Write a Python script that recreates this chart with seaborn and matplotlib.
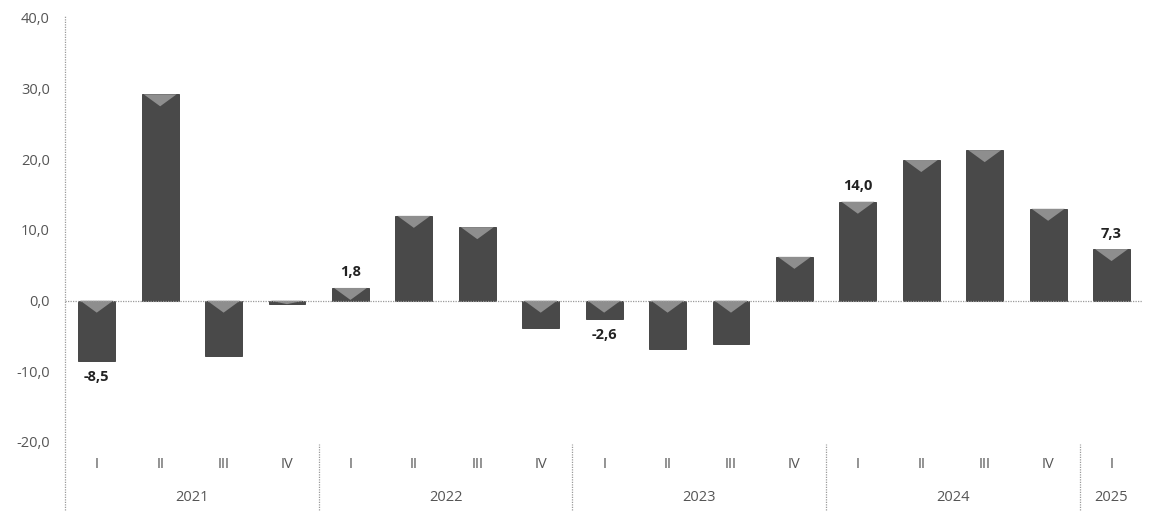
import numpy as np
import pandas as pd
import matplotlib
matplotlib.use("Agg")
import matplotlib.pyplot as plt
from matplotlib.patches import Polygon
import seaborn as sns

# Quarterly change (%)
years = ["2021", "2022", "2023", "2024", "2025"]
quarters_per_year = [4, 4, 4, 4, 1]
quarter_names = ["I", "II", "III", "IV"]
values = [-8.5, 29.2, -7.8, -0.5,
          1.8, 12.0, 10.4, -3.8,
          -2.6, -6.9, -6.1, 6.2,
          14.0, 19.9, 21.3, 13.0,
          7.3]
labelled = {0: "-8,5", 4: "1,8", 8: "-2,6", 12: "14,0", 16: "7,3"}

periods, quarters = [], []
for y, n in zip(years, quarters_per_year):
    for q in quarter_names[:n]:
        periods.append(f"{y} {q}")
        quarters.append(q)
df = pd.DataFrame({"period": periods, "value": values})

sns.set_style("white")
plt.rcParams["font.family"] = ["Open Sans", "DejaVu Sans"]

fig = plt.figure(figsize=(11.49, 5.29), dpi=100)
ax = fig.add_axes([0.0566, 0.1645, 0.9384, 0.8015])

sns.barplot(data=df, x="period", y="value", order=periods, color="#494949",
            width=0.58, saturation=1, ax=ax, edgecolor="#383838", linewidth=0.6)

ax.set_ylim(-20, 40)
ax.set_xlim(-0.5, len(values) - 0.5)
ax.set_yticks(np.arange(-20, 41, 10))
ax.set_yticklabels([f"{v:.1f}".replace(".", ",") for v in np.arange(-20, 41, 10)],
                   color="#555555", fontsize=10.5)
ax.tick_params(axis="y", length=0, pad=11)
ax.set_xticks(range(len(values)))
ax.set_xticklabels(quarters, color="#555555", fontsize=10.5)
ax.tick_params(axis="x", length=0, pad=11)
ax.set_xlabel("")
ax.set_ylabel("")
for s in ax.spines.values():
    s.set_visible(False)

# light bevel at the top edge of every bar
for bar in ax.patches:
    x0, w = bar.get_x(), bar.get_width()
    top = max(bar.get_y(), bar.get_y() + bar.get_height())
    h = min(1.7, abs(bar.get_height()))
    tri = Polygon([[x0 + 0.03, top], [x0 + w - 0.03, top], [x0 + w / 2, top - h]],
                  closed=True, facecolor="#8e8e8e", edgecolor="none", zorder=3)
    ax.add_patch(tri)

# zero line
ax.axhline(0, color="#9a9a9a", linestyle=(0, (1, 1)), linewidth=0.9, zorder=4)

# value labels
for i, txt in labelled.items():
    v = values[i]
    off = 1.2 if v >= 0 else -1.3
    ax.text(i, v + off, txt, ha="center", va="bottom" if v >= 0 else "top",
            fontsize=10.5, fontweight="bold", color="#222222")

# left axis line running down through the category area
trans = ax.get_xaxis_transform()
ax.plot([-0.5, -0.5], [-0.16, 1.005], transform=trans, color="#9a9a9a",
        linestyle=(0, (1, 1)), linewidth=0.9, clip_on=False)

# year labels and separators
start = 0
for y, n in zip(years, quarters_per_year):
    ax.text(start + (n - 1) / 2, -0.132, y, transform=trans, ha="center",
            va="center", fontsize=10.5, color="#555555")
    start += n
    if start < len(values):
        ax.plot([start - 0.5, start - 0.5], [-0.16, -0.005], transform=trans,
                color="#9a9a9a", linestyle=(0, (1, 1)), linewidth=0.9, clip_on=False)

fig.savefig("out.png", dpi=100, facecolor="white")
